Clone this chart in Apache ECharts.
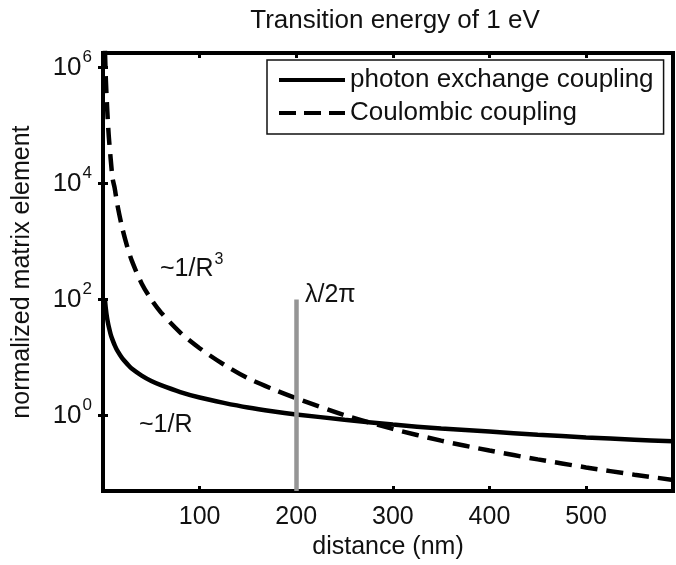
<!DOCTYPE html>
<html>
<head>
<meta charset="utf-8">
<script src="https://cdn.jsdelivr.net/npm/echarts@6/dist/echarts.min.js"></script>
<style>
  html, body { margin: 0; padding: 0; background: #fff; }
  #chart { width: 676px; height: 565px; }
</style>
</head>
<body>
<div id="chart"></div>
<script>
// Distance R in nm
const distance = [2, 3, 4, 5, 6, 8, 10, 12, 15, 20, 25, 30, 40, 50, 60, 80, 100,
                  125, 150, 175, 200, 250, 300, 350, 400, 450, 500, 550, 590];
// Normalized matrix element, photon exchange coupling (~1/R)
const photonExchange = [100, 68, 51, 41, 34, 25, 20, 16.5, 13, 9.7, 7.8, 6.4, 4.9, 3.95, 3.35,
                        2.55, 2.05, 1.66, 1.38, 1.19, 1.05, 0.85, 0.7, 0.6, 0.53, 0.47, 0.42, 0.385, 0.36];
// Normalized matrix element, Coulombic coupling (~1/R^3)
const coulombic = [2.0e6, 5.9e5, 2.5e5, 1.2e5, 6.5e4, 2.6e4, 1.2e4, 8.5e3, 4.2e3, 1.7e3, 830,
                   460, 190, 100, 60, 27, 14.5, 7.6, 4.4, 2.9, 2.0, 1.02, 0.59, 0.37, 0.25, 0.176,
                   0.128, 0.096, 0.078];
// Decade ticks on the vertical axis
const yTicks = [1, 100, 1e4, 1e6];
// Reduced wavelength marker (lambda / 2 pi) for a 1 eV transition
const lambdaOver2Pi = 200;
const markerTop = 100;

const xRange = [0, 590];
const yRange = [0.05, 1.78e6];

const FONT = 'Liberation Sans, Arial, Helvetica, sans-serif';
const FS = 25;

const pair = (xs, ys) => xs.map((x, i) => [x, ys[i]]);

// superscript: a padded box lifts the exponent above the base text
const sup = { fontSize: 17, fontFamily: FONT, color: '#111', lineHeight: 15, padding: [0, 0, 20, 1] };

const powLabel = v => '{b|10}{s|' + Math.round(Math.log10(v)) + '}';
const powRich = {
  b: { fontSize: 26, fontFamily: FONT, color: '#111', lineHeight: 30 },
  s: sup
};

const tickStyle = { inside: true, length: 5, lineStyle: { color: '#000', width: 3 } };

const chart = echarts.init(document.getElementById('chart'), null, { renderer: 'canvas' });

chart.setOption({
  backgroundColor: '#fff',
  animation: false,
  textStyle: { fontFamily: FONT },
  title: {
    text: 'Transition energy of 1 eV',
    left: 390, top: 3, textAlign: 'center',
    textStyle: { fontFamily: FONT, fontSize: 26, fontWeight: 'normal', color: '#111' }
  },
  grid: {
    left: 103, right: 3, top: 53, bottom: 67,
    show: true, borderColor: '#000', borderWidth: 4, backgroundColor: '#fff'
  },
  legend: {
    orient: 'vertical',
    left: 267, top: 60,
    backgroundColor: '#fff',
    borderColor: '#111', borderWidth: 1.5, borderRadius: 0,
    padding: [7, 10, 8, 12],
    itemGap: 7,
    itemWidth: 66, itemHeight: 20,
    textStyle: { fontFamily: FONT, fontSize: 26, color: '#111' },
    data: [
      { name: 'photon exchange coupling', icon: 'path://M0,8H66V12H0Z' },
      { name: 'Coulombic coupling', icon: 'path://M0,8H17V12H0Z M25,8H42V12H25Z M50,8H66V12H50Z' }
    ]
  },
  xAxis: [
    {
      type: 'value', min: xRange[0], max: xRange[1], interval: 100,
      position: 'bottom',
      axisLine: { show: false }, splitLine: { show: false },
      axisTick: tickStyle,
      axisLabel: { fontFamily: FONT, fontSize: FS, color: '#111', margin: 14,
                   showMinLabel: false, showMaxLabel: false },
      name: 'distance (nm)', nameLocation: 'middle', nameGap: 42,
      nameTextStyle: { fontFamily: FONT, fontSize: FS, color: '#111' }
    },
    {
      type: 'value', min: xRange[0], max: xRange[1], interval: 100,
      position: 'top',
      axisLine: { show: false }, splitLine: { show: false },
      axisTick: tickStyle,
      axisLabel: { show: false }
    }
  ],
  yAxis: [
    {
      type: 'log', logBase: 10, min: yRange[0], max: yRange[1],
      position: 'left',
      axisLine: { show: false }, splitLine: { show: false }, minorTick: { show: false },
      axisTick: Object.assign({ customValues: yTicks }, tickStyle),
      axisLabel: { customValues: yTicks, formatter: powLabel, rich: powRich, margin: 11 },
      name: 'normalized matrix element', nameLocation: 'middle', nameGap: 68,
      nameTextStyle: { fontFamily: FONT, fontSize: FS, color: '#111' }
    },
    {
      type: 'log', logBase: 10, min: yRange[0], max: yRange[1],
      position: 'right',
      axisLine: { show: false }, splitLine: { show: false },
      axisTick: Object.assign({ customValues: yTicks }, tickStyle),
      axisLabel: { show: false }
    }
  ],
  series: [
    {
      name: 'photon exchange coupling', type: 'line',
      data: pair(distance, photonExchange),
      smooth: 0.3, showSymbol: false, symbol: 'none', clip: true,
      lineStyle: { color: '#000', width: 4.5 },
      itemStyle: { color: '#000' },
      z: 3,
      markLine: {
        silent: true, symbol: 'none',
        lineStyle: { color: '#959595', width: 4.5, type: 'solid' },
        label: { show: false },
        data: [[{ coord: [lambdaOver2Pi, yRange[0]] }, { coord: [lambdaOver2Pi, markerTop] }]]
      }
    },
    {
      name: 'Coulombic coupling', type: 'line',
      data: pair(distance, coulombic),
      smooth: 0.3, showSymbol: false, symbol: 'none', clip: true,
      lineStyle: { color: '#000', width: 4.5, type: [17, 9] },
      itemStyle: { color: '#000' },
      z: 4
    }
  ],
  graphic: [
    {
      type: 'text', left: 160, top: 252, z: 10,
      style: { text: '{b|~1/R}{s|3}', fill: '#111',
               rich: { b: { fontSize: FS, fontFamily: FONT, lineHeight: 30, color: '#111' },
                       s: Object.assign({}, sup, { fontSize: 16, padding: [0, 0, 18, 1] }) } }
    },
    {
      type: 'text', left: 139, top: 413, z: 10,
      style: { text: '~1/R', fill: '#111', font: FS + 'px ' + FONT }
    },
    {
      type: 'text', left: 305, top: 283, z: 10,
      style: { text: 'λ/2π', fill: '#111', font: FS + 'px ' + FONT }
    }
  ]
});
</script>
</body>
</html>
